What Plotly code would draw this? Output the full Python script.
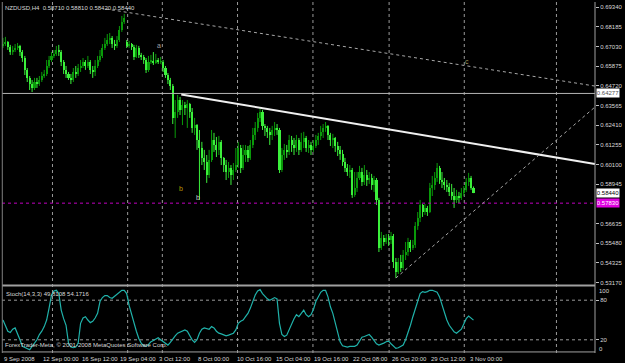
import plotly.graph_objects as go

# ---------------- data (prices in pips, /10000) ----------------
opens = [6707,
 6718,6730,6701,6671,6683,6695,6707,6671,6636,6566, 6519,6483,6460,6495,6483,6507,6530,6542,6589,6624,
 6648,6660,6683,6671,6613,6566,6542,6519,6507,6554, 6542,6577,6589,6613,6589,6613,6566,6554,6589,6624,
 6648,6695,6718,6742,6754,6718,6707,6742,6801,6848,
 6730,
 6707,6718,6701,6642,6695,6654,6642,6624,6566,
 6613,6619,6607,6624,6613,6613,6577,6536,6507,6472,
 6284,6319,6389,6331,6360,6342,6366,6319,6225,6242,
 6154,6107,6049,6025,5949,6037,6154,6125,6096,6143,
 6049,6007,5966,5990,5949,5978,6007,6107,5990,6066,
 6096,6049,6125,6184,6225,6284,6319,6237,6225,6202,
 6184,6213,6225,6213,5978,6066,6096,6084,6154,6125,
 6107,6154,6096,6143,6166,6107,6125,6096,6119,6154,
 6178,6202,6225,6237,6184,6154,6166,6119,6096,6072,
 6025,5990,5966,5978,5831,5872,5931,5966,5908,5949,
 5919,5931,5890,5919,5802,5520,5579,5555,5579,5567,
 5590,5437,5379,5437,5402,5479,5496,5555,5520,5537,
 5649,5696,5772,5731,5755,5731,5872,5890,5931,5990,
 5919,5908,5890,5878,5849,5825,5802,5825,5814,5843,
 5861,5908,5931,5871]

closes = [6718,6730,6701,6671,6683,6695,6707,6671,6636,6566,
 6519,6483,6460,6495,6483,6507,6530,6542,6589,6624,
 6648,6660,6683,6671,6613,6566,6542,6519,6507,6554,
 6542,6577,6589,6613,6589,6613,6566,6554,6589,6624,
 6648,6695,6718,6742,6754,6718,6707,6742,6801,6848,
 6871,6707,6718,6701,6642,6695,6654,6642,6624,6566,
 6613,6619,6607,6624,6613,6613,6577,6536,6507,6472,
 6284,6319,6389,6331,6360,6342,6366,6319,6225,6242,
 6154,6107,6049,6025,5949,6037,6154,6125,6096,6143,
 6049,6007,5966,5990,5949,5978,6007,6107,5990,6066,
 6096,6049,6125,6184,6225,6284,6319,6237,6225,6202,
 6184,6213,6225,6213,5978,6066,6096,6084,6154,6125,
 6107,6154,6096,6143,6166,6107,6125,6096,6119,6154,
 6178,6202,6225,6237,6184,6154,6166,6119,6096,6072,
 6025,5990,5966,5978,5831,5872,5931,5966,5908,5949,
 5919,5931,5890,5919,5802,5520,5579,5555,5579,5567,
 5590,5437,5379,5437,5402,5479,5496,5555,5520,5537,
 5649,5696,5772,5731,5755,5731,5872,5890,5931,5990,
 5919,5908,5890,5878,5849,5825,5802,5825,5814,5843,
 5861,5908,5931,5871,5844]

highs = [6754,6760,6736,6713,6707,6718,6724,6713,6683,6648,
 6577,6530,6507,6519,6519,6530,6554,6566,6624,6648,
 6671,6683,6707,6713,6683,6624,6589,6554,6542,6577,
 6589,6601,6624,6636,6624,6648,6624,6589,6624,6648,
 6683,6718,6754,6777,6783,6765,6742,6765,6824,6883,
 6895,6742,6736,6724,6713,6713,6707,6666,6654,6636,
 6648,6654,6671,6660,6636,6642,6624,6589,6548,6519,
 6483,6389,6419,6407,6389,6378,6389,6372,6342,6284,
 6248,6213,6143,6096,6066,6096,6213,6196,6172,6178,
 6154,6054,6037,6025,6007,6019,6107,6143,6125,6125,
 6125,6119,6154,6225,6260,6313,6342,6331,6248,6237,
 6225,6237,6260,6248,6225,6107,6131,6125,6184,6178,
 6166,6184,6166,6196,6202,6178,6154,6143,6154,6184,
 6196,6237,6248,6260,6242,6196,6190,6172,6143,6119,
 6096,6049,6013,6007,5990,5966,5966,6002,5990,6007,
 5978,5966,5955,5943,5931,5814,5614,5596,5602,5602,
 5614,5602,5461,5461,5479,5508,5555,5579,5567,5567,
 5672,5731,5802,5778,5778,5767,5902,5943,5966,6019,
 6002,5966,5931,5919,5902,5896,5872,5861,5849,5872,
 5884,5931,5961,5943,5881]

lows = [6695,6707,6683,6654,6654,6671,6683,6648,6613,6536,
 6495,6448,6436,6448,6460,6472,6495,6519,6530,6577,
 6613,6636,6648,6648,6589,6542,6519,6507,6483,6495,
 6519,6530,6554,6577,6566,6577,6542,6519,6530,6577,
 6613,6636,6683,6707,6718,6695,6683,6695,6730,6789,
 6836,6695,6695,6683,6624,6636,6636,6624,6601,6548,
 6554,6601,6595,6601,6601,6601,6554,6519,6483,6448,
 6248,6166,6284,6301,6242,6301,6225,6284,6196,6184,
 6096,5802,6007,5978,5902,5931,6025,6084,6054,6066,
 6007,5966,5919,5931,5890,5919,5966,5990,5960,5978,
 6025,6025,6037,6107,6154,6202,6260,6213,6178,6166,
 6125,6154,6178,6184,5960,5966,6037,6049,6066,6084,
 6066,6084,6066,6084,6107,6084,6078,6066,6084,6107,
 6125,6154,6166,6202,6154,6119,6107,6084,6060,6037,
 6002,5966,5943,5931,5814,5820,5849,5919,5884,5890,
 5884,5896,5861,5849,5772,5496,5508,5532,5543,5532,
 5543,5402,5344,5367,5379,5390,5449,5473,5496,5508,
 5520,5626,5672,5702,5714,5708,5725,5825,5861,5908,
 5896,5872,5861,5849,5825,5802,5755,5784,5784,5802,
 5825,5849,5884,5861,5842]

stoch_main = [50,40,33,31,36,38,30,20,10,8,
 6,5,10,15,20,28,33,40,50,68,
 88,94,95,90,65,52,42,15,9,8,
 9,15,45,53,55,50,46,48,53,60,
 78,84,87,87,84,83,86,88,92,95,
 95,90,72,58,45,33,22,15,11,10,
 13,17,19,21,23,20,17,14,12,16,
 22,26,30,32,34,35,33,26,20,16,
 20,30,36,38,37,36,40,38,33,30,
 29,27,26,27,28,30,35,45,48,50,
 55,60,68,78,88,94,96,90,86,82,
 80,82,84,82,45,28,25,27,36,45,
 52,58,55,60,65,58,55,58,66,78,
 86,92,95,95,85,70,60,45,30,17,
 11,10,9,10,10,10,12,18,24,25,
 27,28,24,18,14,12,13,15,17,18,
 14,10,7,8,10,12,20,30,42,55,
 68,80,90,93,92,93,95,95,94,92,
 85,72,60,50,42,36,32,30,33,36,
 44,52,56,53,49.81]

time_labels = ["9 Sep 2008", "12 Sep 00:00", "16 Sep 12:00", "19 Sep 04:00", "3 Oct 12:00",
               "8 Oct 00:00", "10 Oct 16:00", "15 Oct 04:00", "19 Oct 16:00", "22 Oct 08:00",
               "26 Oct 20:00", "29 Oct 12:00", "3 Nov 00:00"]
time_label_bars = [0, 16, 32, 48, 64, 80, 96, 112, 128, 144, 160, 176, 192]
grid_bars = [20.4, 51.4, 65.7, 96.7, 127.8, 159.2, 190.2, 228.2]

# 0.57790 is hidden behind the magenta level box in the reference
price_ticks = [0.69340, 0.68185, 0.67030, 0.65875, 0.64720, 0.63565, 0.62410, 0.61255,
               0.60100, 0.58945, 0.56635, 0.55480, 0.54325, 0.53170]

# trend-line anchors (bar index, price)
line_c = [(42.4, 0.6924), (244.1, 0.6471)]
line_main = [(73.5, 0.64215), (244.1, 0.60131)]
line_support = [(162.0, 0.53432), (244.1, 0.63480)]
hline_level = 0.64277
magenta_level = 0.57830
last_price = 0.58440

# ---------------- build ----------------
o = [v / 10000 for v in opens]
c = [v / 10000 for v in closes]
h = [v / 10000 for v in highs]
l = [v / 10000 for v in lows]
n = len(c)
xs = list(range(n))

UP = "#0a9a0a"     # bullish (darker green)
DN = "#3cf03c"     # bearish (bright lime)
FONT = "Liberation Sans"
TXT = "#d8d8d8"

is_up = [c[i] >= o[i] for i in range(n)]
body_base = [min(o[i], c[i]) for i in range(n)]
body_h = [max(abs(c[i] - o[i]), 0.00025) for i in range(n)]
body_col = [UP if u else DN for u in is_up]

fig = go.Figure()

for flag, col in ((True, UP), (False, DN)):
    wx, wy = [], []
    for i in range(n):
        if is_up[i] == flag:
            wx += [i, i, None]
            wy += [l[i], h[i], None]
    fig.add_trace(go.Scatter(x=wx, y=wy, mode="lines", line=dict(color=col, width=1),
                             hoverinfo="skip", xaxis="x", yaxis="y"))

fig.add_trace(go.Bar(x=xs, y=body_h, base=body_base, width=0.85,
                     marker=dict(color=body_col, line=dict(width=0)),
                     hoverinfo="skip", xaxis="x", yaxis="y"))

fig.add_trace(go.Scatter(x=xs, y=stoch_main, mode="lines",
                         line=dict(color="#20b2aa", width=1.2),
                         hoverinfo="skip", xaxis="x", yaxis="y2"))

H_PLOT = 363 - 2 - 10
main_bottom = (353 - 284) / H_PLOT
stoch_top = (353 - 287) / H_PLOT

shapes = []
for gb in grid_bars:
    shapes.append(dict(type="line", xref="x", yref="paper", x0=gb, x1=gb, y0=0, y1=1,
                       line=dict(color="#9a9a9a", width=1, dash="dot"), layer="below"))
for lv in (20, 80):
    shapes.append(dict(type="line", xref="paper", yref="y2", x0=0, x1=1, y0=lv, y1=lv,
                       line=dict(color="#9a9a9a", width=1, dash="dot"), layer="below"))
shapes.append(dict(type="line", xref="paper", yref="y", x0=0, x1=1, y0=hline_level, y1=hline_level,
                   line=dict(color="#b4b4b4", width=1)))
shapes.append(dict(type="line", xref="paper", yref="y", x0=0, x1=1, y0=magenta_level, y1=magenta_level,
                   line=dict(color="#c000c0", width=1, dash="dot")))
for pts, col, w, dash in ((line_c, "#a8a8a8", 1, "dot"),
                          (line_main, "#f0f0f0", 2, "solid"),
                          (line_support, "#a8a8a8", 1, "dot")):
    shapes.append(dict(type="line", xref="x", yref="y", x0=pts[0][0], y0=pts[0][1],
                       x1=pts[1][0], y1=pts[1][1], line=dict(color=col, width=w, dash=dash)))
shapes.append(dict(type="line", xref="paper", yref="paper", x0=0, x1=1,
                   y0=(main_bottom + stoch_top) / 2, y1=(main_bottom + stoch_top) / 2,
                   line=dict(color="#a0a0a0", width=2)))
shapes.append(dict(type="line", xref="paper", yref="paper", x0=0, x1=1, y0=0.003, y1=0.003,
                   line=dict(color="#a0a0a0", width=1)))
shapes.append(dict(type="line", xref="paper", yref="paper", x0=1, x1=1, y0=0, y1=1,
                   line=dict(color="#a0a0a0", width=1)))
shapes.append(dict(type="line", xref="paper", yref="paper", x0=0.0005, x1=0.0005, y0=0, y1=1,
                   line=dict(color="#808080", width=1)))

ann = []
for b, t in zip(time_label_bars, time_labels):
    ann.append(dict(x=b, xref="x", y=0, yref="paper", text=t, showarrow=False,
                    xanchor="left", yanchor="middle", yshift=-6, xshift=-1,
                    font=dict(size=6, color=TXT, family=FONT)))
ann.append(dict(x=0, xref="paper", y=1, yref="paper", xanchor="left", yanchor="top", xshift=1, yshift=-1,
                text="NZDUSD,H4  0.58710 0.58810 0.58420 0.58440", showarrow=False,
                font=dict(size=6, color=TXT, family=FONT)))
ann.append(dict(x=0, xref="paper", y=stoch_top, yref="paper", xanchor="left", yanchor="top", xshift=2, yshift=-2,
                text="Stoch(14,3,3) 49.8108 54.1716", showarrow=False,
                font=dict(size=6, color=TXT, family=FONT)))
ann.append(dict(x=0, xref="paper", y=0, yref="paper", xanchor="left", yanchor="bottom", xshift=1, yshift=3,
                text="ForexTrader-Meta, © 2001-2008 MetaQuotes Software Corp.", showarrow=False,
                font=dict(size=6, color=TXT, family=FONT)))
for txt, val, ys in (("100", 100, -4), ("0", 0, 4)):
    ann.append(dict(x=1, xref="paper", y=val, yref="y2", xanchor="left", yanchor="middle",
                    xshift=2, yshift=ys, text=txt, showarrow=False,
                    font=dict(size=6, color=TXT, family=FONT)))
for val, txt, bg, fc in ((hline_level, "0.64277", "#ffffff", "#505050"),
                         (last_price, "0.58440", "#ffffff", "#000000"),
                         (magenta_level, "0.57830", "#e000e0", "#ffffff")):
    ann.append(dict(x=1, xref="paper", y=val, yref="y", xanchor="left", yanchor="middle",
                    xshift=1, text=txt, showarrow=False, bgcolor=bg, borderpad=0, width=22, height=8,
                    font=dict(size=6, color=fc, family=FONT)))
for txt, bx, py, col in (("a", 64.5, 0.6709, "#a0a0a0"), ("b", 73.5, 0.5868, "#b89a00"),
                         ("b", 80.5, 0.5815, "#c0c0c0"), ("c", 191.5, 0.6618, "#a09a60")):
    ann.append(dict(x=bx, xref="x", y=py, yref="y", text=txt, showarrow=False,
                    font=dict(size=7, color=col, family=FONT)))

fig.update_layout(
    width=625, height=363, margin=dict(l=2, r=24, t=2, b=10),
    paper_bgcolor="black", plot_bgcolor="black", showlegend=False,
    barmode="overlay", bargap=0,
    xaxis=dict(range=[-0.41, 244.1], domain=[0, 1], anchor="y2", showgrid=False, zeroline=False,
               showticklabels=False, ticks="", showline=False),
    yaxis=dict(domain=[main_bottom, 1], range=[0.5308, 0.6965], side="right", anchor="x",
               tickvals=price_ticks, ticktext=[f"{v:.5f}" for v in price_ticks],
               ticks="outside", ticklen=3, tickcolor="#c0c0c0",
               tickfont=dict(size=6, color=TXT, family=FONT),
               showgrid=False, zeroline=False, showline=False),
    yaxis2=dict(domain=[0, stoch_top], range=[0, 100], side="right", anchor="x",
                tickvals=[20, 80], ticktext=["20", "80"], ticks="outside", ticklen=3, tickcolor="#c0c0c0",
                tickfont=dict(size=6, color=TXT, family=FONT),
                showgrid=False, zeroline=False, showline=False),
    shapes=shapes, annotations=ann,
)

fig.write_html("out.html")
